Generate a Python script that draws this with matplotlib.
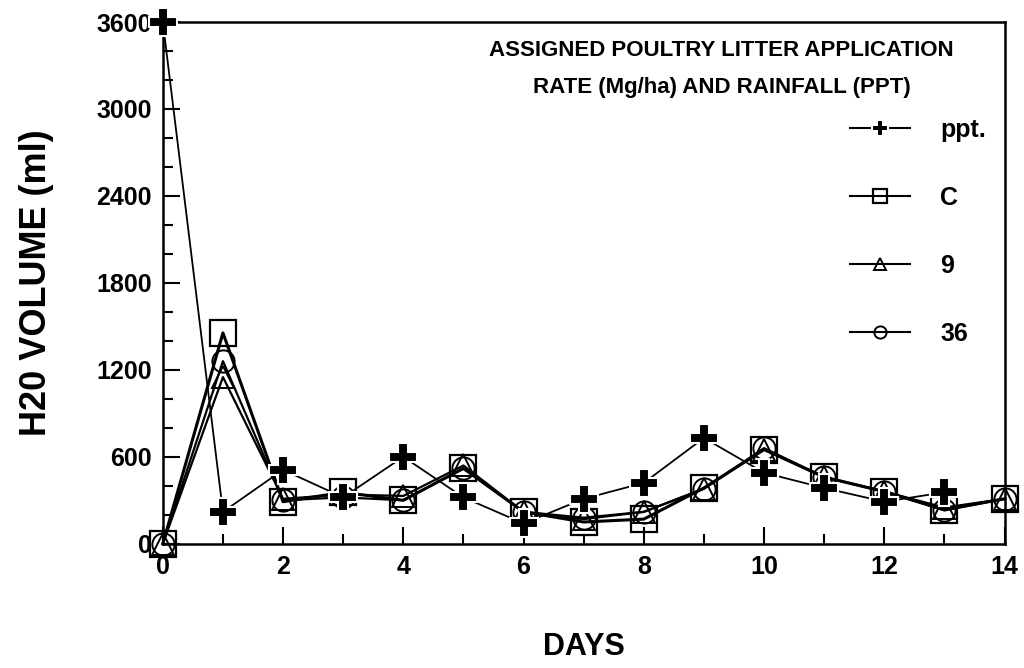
import matplotlib
matplotlib.use("Agg")
import matplotlib.pyplot as plt
from matplotlib.ticker import MultipleLocator

plt.rcParams['font.family'] = ['Liberation Sans', 'DejaVu Sans']

days = list(range(15))
ppt_days = list(range(14))
ppt = [3600, 220, 510, 320, 600, 320, 140, 310, 420, 730, 490, 385, 290, 355]
ctrl = [0, 1455, 290, 355, 300, 520, 220, 150, 170, 385, 650, 460, 360, 235, 310]
rate9 = [0, 1150, 310, 340, 330, 540, 220, 170, 220, 380, 650, 460, 360, 250, 310]
rate36 = [0, 1260, 300, 320, 300, 520, 220, 180, 220, 380, 660, 460, 360, 230, 310]

fig = plt.figure(figsize=(10.24, 6.68), dpi=100)
ax = fig.add_axes([0.159, 0.186, 0.822, 0.781])

ax.plot(ppt_days, ppt, color='black', lw=1.3, marker='P', ms=20, mfc='black',
        mec='white', mew=1.5, clip_on=False, label='ppt.', zorder=5)
ax.plot(days, ctrl, color='black', lw=2.2, marker='s', ms=19, mfc='none',
        mec='black', mew=1.6, clip_on=False, label='C', zorder=4)
ax.plot(days, rate9, color='black', lw=1.6, marker='^', ms=16, mfc='none',
        mec='black', mew=1.4, clip_on=False, label='9', zorder=4)
ax.plot(days, rate36, color='black', lw=1.6, marker='o', ms=16, mfc='none',
        mec='black', mew=1.4, clip_on=False, label='36', zorder=4)

ax.set_xlim(0, 14)
ax.set_ylim(0, 3600)
ax.xaxis.set_major_locator(MultipleLocator(2))
ax.xaxis.set_minor_locator(MultipleLocator(1))
ax.yaxis.set_major_locator(MultipleLocator(600))
ax.yaxis.set_minor_locator(MultipleLocator(200))
ax.tick_params(which='both', direction='in', width=1.5)
ax.tick_params(which='major', length=12, labelsize=18, pad=8)
ax.tick_params(which='minor', length=7)
for lab in ax.get_xticklabels() + ax.get_yticklabels():
    lab.set_fontweight('bold')
for s in ax.spines.values():
    s.set_linewidth(1.8)

ax.set_xlabel('DAYS', fontsize=22, fontweight='bold', labelpad=38)
ax.set_ylabel('H20 VOLUME (ml)', fontsize=26, fontweight='bold', labelpad=30)

ax.text(0.664, 0.965, 'ASSIGNED POULTRY LITTER APPLICATION\nRATE (Mg/ha) AND RAINFALL (PPT)',
        transform=ax.transAxes, ha='center', va='top', fontsize=16,
        fontweight='bold', linespacing=1.95)

leg = ax.legend(loc='upper left', bbox_to_anchor=(0.79, 0.86), frameon=False,
                fontsize=18, handlelength=2.4, labelspacing=1.76,
                markerscale=0.55, handletextpad=1.2)
for t in leg.get_texts():
    t.set_fontweight('bold')
for h in leg.legend_handles:
    h.set_linewidth(1.5)

fig.savefig('out.png', dpi=100)
